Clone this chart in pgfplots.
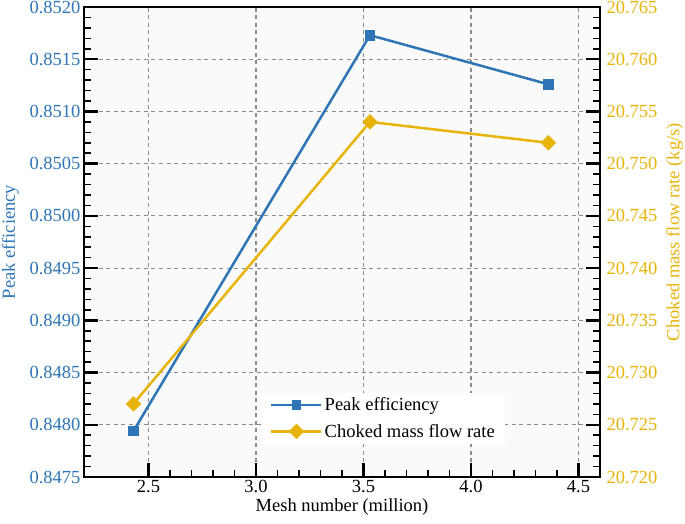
\documentclass[border=0pt]{standalone}
\usepackage{fontspec}
\setmainfont{Liberation Serif}
\usepackage{pgfplots}
\pgfplotsset{compat=1.18}
\definecolor{effblue}{RGB}{46,117,182}
\definecolor{flowgold}{RGB}{232,180,10}
\newcommand{\bigf}{\fontsize{18.5}{22}\selectfont}
\begin{document}
\begin{tikzpicture}
\path[use as bounding box] (-84pt,-46pt) rectangle (601pt,477pt);
\pgfplotsset{
 common/.style={
  scale only axis, width=516pt, height=470pt, at={(0,0)}, anchor=south west,
  xmin=2.2, xmax=4.6,
  xtick={2.5,3,3.5,4,4.5},
  minor x tick num=4,
  minor y tick num=4,
  major tick length=14pt, minor tick length=7pt,
  major tick style={line width=2.5pt,black},
  minor tick style={line width=1.5pt,black},
  axis line style={line width=2.5pt},
  tick label style={font=\bigf},
  label style={font=\bigf},
  /pgf/number format/assume math mode=true,
  scaled y ticks=false,
  legend image code/.code={\draw[mark repeat=2,mark phase=2] plot coordinates {(0pt,0pt) (25pt,0pt) (50pt,0pt)};},
 }
}
\begin{axis}[common,
  axis background/.style={fill=black!2},
  ymin=0.8475, ymax=0.8520,
  ytick={0.8475,0.8480,0.8485,0.8490,0.8495,0.8500,0.8505,0.8510,0.8515,0.8520},
  yticklabel style={color=effblue,/pgf/number format/.cd,fixed,fixed zerofill,precision=4},
  xticklabel style={/pgf/number format/.cd,fixed,fixed zerofill,precision=1},
  xtick pos=bottom, ytick pos=left,
  grid=major,
  major grid style={line width=1.2pt, color=black!45, dash pattern=on 4pt off 3.5pt},
  xlabel={Mesh number (million)},
  xlabel style={at={(axis description cs:0.5,-0.0635)}, anchor=center},
  ylabel={Peak efficiency},
  ylabel style={at={(axis description cs:-0.1425,0.5)}, anchor=center, color=effblue},
]
\addplot[effblue, line width=2.5pt, mark=square*, mark size=4.2pt, mark options={solid}]
  coordinates {(2.43,0.84794) (3.53,0.85173) (4.36,0.85126)};
\end{axis}
\begin{axis}[common,
  axis x line=none,
  axis y line*=right,
  ymin=20.720, ymax=20.765,
  ytick={20.720,20.725,20.730,20.735,20.740,20.745,20.750,20.755,20.760,20.765},
  yticklabel style={xshift=3pt,color=flowgold,/pgf/number format/.cd,fixed,fixed zerofill,precision=3},
  ylabel={Choked mass flow rate (kg/s)},
  ylabel style={at={(axis description cs:1.145,0.521)}, anchor=center, color=flowgold},
  legend style={at={(rel axis cs:0.345,0.18)}, anchor=north west, draw=none, fill=white,
    font=\bigf, inner xsep=8pt, inner ysep=3pt, row sep=8pt},
  legend cell align=left,
]
\addlegendimage{effblue, line width=2.5pt, mark=square*, mark size=3.6pt}
\addlegendentry{Peak efficiency}
\addplot[flowgold, line width=2.5pt, mark=square*, mark size=4.2pt, mark options={rotate=45}]
  coordinates {(2.43,20.727) (3.53,20.754) (4.36,20.752)};
\addlegendentry{Choked mass flow rate}
\end{axis}
\end{tikzpicture}
\end{document}
